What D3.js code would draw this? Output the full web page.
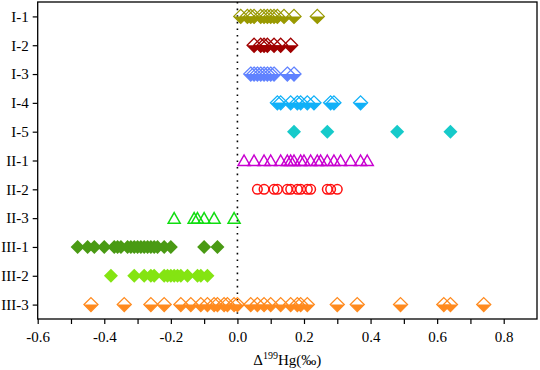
<!DOCTYPE html>
<html>
<head>
<meta charset="utf-8">
<script src="https://cdn.jsdelivr.net/npm/d3@7"></script>
<style>
  body { margin: 0; background: #fff; }
  svg text { font-family: "Liberation Serif", "Times New Roman", serif; fill: #000; }
</style>
</head>
<body>
<div id="chart"></div>
<script>
"use strict";

// groups, top to bottom
var categories = ["I-1", "I-2", "I-3", "I-4", "I-5", "II-1", "II-2", "II-3", "III-1", "III-2", "III-3"];

// Δ199Hg values (‰)
var valsI1 = [0.01, 0.03, 0.04, 0.05, 0.07, 0.08, 0.09, 0.10, 0.11, 0.12, 0.14, 0.17, 0.24];
var valsI2 = [0.05, 0.07, 0.08, 0.09, 0.11, 0.13, 0.16];
var valsI3 = [0.04, 0.05, 0.06, 0.07, 0.08, 0.09, 0.10, 0.11, 0.15, 0.17];
var valsI4 = [0.12, 0.13, 0.16, 0.18, 0.19, 0.21, 0.23, 0.28, 0.29, 0.37];
var valsI5 = [0.17, 0.27, 0.48, 0.64];
var valsII1 = [0.02, 0.05, 0.08, 0.10, 0.13, 0.15, 0.16, 0.17, 0.19, 0.20, 0.22, 0.24, 0.25, 0.27, 0.29, 0.31, 0.34, 0.37, 0.39];
var valsII2 = [0.06, 0.08, 0.11, 0.12, 0.15, 0.16, 0.18, 0.19, 0.21, 0.22, 0.27, 0.28, 0.30];
var valsII3 = [-0.19, -0.13, -0.12, -0.10, -0.07, -0.01];
var valsIII1 = [-0.48, -0.45, -0.43, -0.40, -0.37, -0.36, -0.35, -0.33, -0.32, -0.31, -0.30, -0.29, -0.28, -0.27, -0.26, -0.25, -0.24, -0.22, -0.20, -0.10, -0.06];
var valsIII2 = [-0.38, -0.31, -0.28, -0.26, -0.25, -0.22, -0.21, -0.20, -0.19, -0.18, -0.17, -0.15, -0.12, -0.11, -0.09];
var valsIII3 = [-0.44, -0.34, -0.26, -0.22, -0.17, -0.14, -0.11, -0.09, -0.07, -0.06, -0.04, -0.03, -0.01, 0.00,
                0.04, 0.06, 0.08, 0.10, 0.13, 0.16, 0.18, 0.19, 0.21, 0.30, 0.36, 0.49, 0.62, 0.64, 0.74];

var xTicks = [-0.6, -0.4, -0.2, 0.0, 0.2, 0.4, 0.6, 0.8];

var series = [valsI1, valsI2, valsI3, valsI4, valsI5, valsII1, valsII2, valsII3, valsIII1, valsIII2, valsIII3];

// marker look per group (kept apart from the data)
var markers = {
	"I-1":   { shape: "halfDiamond", color: "#999900" },
	"I-2":   { shape: "halfDiamond", color: "#A00000" },
	"I-3":   { shape: "halfDiamond", color: "#6082FF" },
	"I-4":   { shape: "halfDiamond", color: "#10B0F8" },
	"I-5":   { shape: "diamond",     color: "#16CACA" },
	"II-1":  { shape: "triangle",    color: "#C800D0" },
	"II-2":  { shape: "circle",      color: "#FF1010" },
	"II-3":  { shape: "triangle",    color: "#10DD10" },
	"III-1": { shape: "diamond",     color: "#4A9A14" },
	"III-2": { shape: "diamond",     color: "#84E412" },
	"III-3": { shape: "halfDiamond", color: "#FF8A1E" }
};

var W = 540, H = 370;
var margin = { top: 2, right: 3, bottom: 51, left: 37.7 };
var x0 = margin.left, x1 = W - margin.right, y0 = margin.top, y1 = H - margin.bottom;

var svg = d3.select("#chart").append("svg")
	.attr("width", W).attr("height", H);

var x = d3.scaleLinear().domain([-0.6, 0.9]).range([x0, x1]);
var y = d3.scalePoint().domain(categories).range([y0, y1]).padding(0.5);

// dotted zero line
svg.append("line")
	.attr("x1", x(0)).attr("x2", x(0))
	.attr("y1", y0).attr("y2", y1)
	.attr("stroke", "#000").attr("stroke-width", 1.6)
	.attr("stroke-dasharray", "1.6,5");

// markers
var R = 7; // diamond half size
var flat = [];
series.forEach(function (vals, i) {
	vals.forEach(function (v) { flat.push({ cat: categories[i], v: v }); });
});

var pts = svg.append("g").selectAll("g")
	.data(flat).enter().append("g")
	.attr("transform", function (d) { return "translate(" + x(d.v) + "," + y(d.cat) + ")"; });

pts.each(function (d) {
	var g = d3.select(this), m = markers[d.cat];
	if (m.shape === "halfDiamond") {
		g.append("path")
			.attr("d", "M" + (-R) + ",0L0," + R + "L" + R + ",0Z")
			.attr("fill", m.color);
		g.append("path")
			.attr("d", "M0," + (-R) + "L" + R + ",0L0," + R + "L" + (-R) + ",0Z")
			.attr("fill", "none").attr("stroke", m.color).attr("stroke-width", 1.3);
	} else if (m.shape === "diamond") {
		g.append("path")
			.attr("d", "M0," + (-R) + "L" + R + ",0L0," + R + "L" + (-R) + ",0Z")
			.attr("fill", m.color);
	} else if (m.shape === "triangle") {
		g.append("path")
			.attr("d", "M0,-5.5L6,5L-6,5Z")
			.attr("fill", "none").attr("stroke", m.color).attr("stroke-width", 1.5);
	} else {
		g.append("circle").attr("r", 4.8)
			.attr("fill", "none").attr("stroke", m.color).attr("stroke-width", 1.5);
	}
});

// frame
svg.append("rect")
	.attr("x", x0).attr("y", y0)
	.attr("width", x1 - x0).attr("height", y1 - y0)
	.attr("fill", "none").attr("stroke", "#000").attr("stroke-width", 1.3);

// axes
var xAxis = d3.axisBottom(x)
	.tickValues(d3.range(-0.6, 0.85, 0.1))
	.tickSize(5)
	.tickFormat(function (d) {
		var r = Math.round(d * 10) / 10;
		var major = xTicks.some(function (t) { return Math.abs(t - r) < 1e-9; });
		return major ? r.toFixed(1) : ""; // plain hyphen minus like the original
	});
var gx = svg.append("g").attr("transform", "translate(0," + y1 + ")").call(xAxis);
gx.select(".domain").remove();
gx.selectAll("line").attr("stroke", "#000").attr("stroke-width", 1.2);
gx.selectAll("text")
	.attr("font-family", "Liberation Serif, serif")
	.attr("font-size", 15).attr("dy", "1.0em");

var yAxis = d3.axisLeft(y).tickSize(5).tickPadding(4);
var gy = svg.append("g").attr("transform", "translate(" + x0 + ",0)").call(yAxis);
gy.select(".domain").remove();
gy.selectAll("line").attr("stroke", "#000").attr("stroke-width", 1.2);
gy.selectAll("text")
	.attr("font-family", "Liberation Serif, serif")
	.attr("font-size", 15);

// x title
var title = svg.append("text")
	.attr("x", (x0 + x1) / 2).attr("y", 365)
	.attr("text-anchor", "middle")
	.attr("font-size", 15);
title.append("tspan").text("Δ");
title.append("tspan").attr("font-size", 10).attr("dy", -6).text("199");
title.append("tspan").attr("dy", 6).text("Hg(‰)");
</script>
</body>
</html>
